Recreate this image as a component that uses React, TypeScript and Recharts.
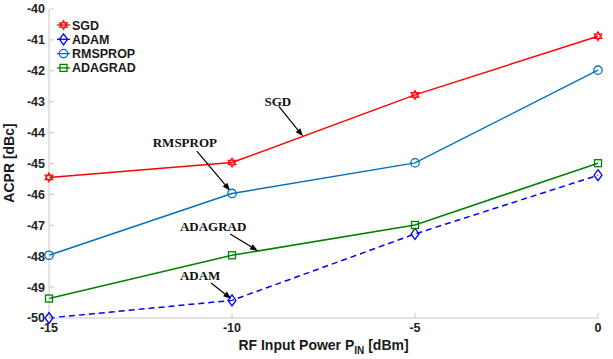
import React from 'react'
import { LineChart, Line, XAxis, YAxis, ReferenceLine } from 'recharts'

// RF input power (dBm)
const powerIn = [-15, -10, -5, 0]

// ACPR (dBc) per optimizer
const sgd = [-45.45, -44.97, -42.78, -40.88]
const adam = [-50, -49.43, -47.28, -45.38]
const rmsprop = [-47.97, -45.97, -44.98, -41.98]
const adagrad = [-49.37, -47.97, -46.99, -44.99]

const xTicks = [-15, -10, -5, 0]
const yTicks = [-50, -49, -48, -47, -46, -45, -44, -43, -42, -41, -40]

const data = powerIn.map((p, i) => ({
  p,
  sgd: sgd[i],
  adam: adam[i],
  rmsprop: rmsprop[i],
  adagrad: adagrad[i],
}))

const RED = '#ff0000'
const BLUE = '#0000ff'
const SKY = '#0072bd'
const GREEN = '#008000'
const FRAME = '#c8c8c8'
const SANS = '"Liberation Sans", Arial, sans-serif'
const SERIF = '"Liberation Serif", "Times New Roman", serif'

// arrow annotations in data coordinates, text offset in px from the arrow tail
const notes = [
  { text: 'SGD', from: [-8.72, -43.15], to: [-8.06, -44.12], dx: -1, dy: 0 },
  { text: 'RMSPROP', from: [-10.96, -44.6], to: [-10.05, -45.88], dx: -12, dy: -4 },
  { text: 'ADAGRAD', from: [-10.05, -47.28], to: [-9.29, -47.83], dx: -17, dy: -3 },
  { text: 'ADAM', from: [-10.57, -48.87], to: [-10.02, -49.38], dx: -11, dy: -3 },
]

type Mark = 'star' | 'diamond' | 'circle' | 'square'

function marker(kind: Mark, cx: number, cy: number, color: string, key?: string) {
  if (kind === 'circle') {
    return <circle key={key} cx={cx} cy={cy} r={4.2} fill="none" stroke={color} strokeWidth={1.3} />
  }
  if (kind === 'square') {
    return <rect key={key} x={cx - 3.5} y={cy - 3.5} width={7} height={7} fill="none" stroke={color} strokeWidth={1.3} />
  }
  if (kind === 'diamond') {
    const d = `M${cx},${cy - 5.5}L${cx + 4},${cy}L${cx},${cy + 5.5}L${cx - 4},${cy}Z`
    return <path key={key} d={d} fill="none" stroke={color} strokeWidth={1.3} />
  }
  const r = 4.5
  const tri = (rot: number) =>
    [0, 1, 2]
      .map((k) => {
        const a = rot + (k * 2 * Math.PI) / 3
        return `${cx + r * Math.sin(a)},${cy - r * Math.cos(a)}`
      })
      .join(' ')
  return (
    <g key={key}>
      <polygon points={tri(0)} fill="none" stroke={color} strokeWidth={1.1} />
      <polygon points={tri(Math.PI)} fill="none" stroke={color} strokeWidth={1.1} />
    </g>
  )
}

const dotFor = (kind: Mark, color: string) => (props: any) => {
  const { cx, cy, index } = props
  if (cx == null || cy == null) return <g key={`d${index}`} />
  return marker(kind, cx, cy, color, `${kind}${index}`)
}

const series: { key: string; name: string; color: string; kind: Mark; dash?: string }[] = [
  { key: 'sgd', name: 'SGD', color: RED, kind: 'star' },
  { key: 'adam', name: 'ADAM', color: BLUE, kind: 'diamond', dash: '6 4' },
  { key: 'rmsprop', name: 'RMSPROP', color: SKY, kind: 'circle' },
  { key: 'adagrad', name: 'ADAGRAD', color: GREEN, kind: 'square' },
]

const LegendBox = () => (
  <svg width={90} height={60} style={{ position: 'absolute', left: 55, top: 18 }}>
    {series.map((s, i) => {
      const y = 7 + i * 14.3
      return (
        <g key={s.key}>
          <line x1={2} x2={15} y1={y} y2={y} stroke={s.color} strokeWidth={1.3} />
          {marker(s.kind, 8.5, y, s.color)}
          <text x={17} y={y + 4.5} fontFamily={SANS} fontWeight="bold" fontSize={12.5} fill="#1a1a1a">
            {s.name}
          </text>
        </g>
      )
    })}
  </svg>
)

const arrowShape = (note: (typeof notes)[number]) => (props: any) => {
  const { x1, y1, x2, y2 } = props
  const ang = Math.atan2(y2 - y1, x2 - x1)
  const len = 8
  const w = 3
  const bx = x2 - len * Math.cos(ang)
  const by = y2 - len * Math.sin(ang)
  const px = -Math.sin(ang) * w
  const py = Math.cos(ang) * w
  return (
    <g>
      <line x1={x1} y1={y1} x2={bx} y2={by} stroke="#000" strokeWidth={1.2} />
      <polygon points={`${x2},${y2} ${bx + px},${by + py} ${bx - px},${by - py}`} fill="#000" />
      <text
        x={x1 + note.dx}
        y={y1 + note.dy}
        textAnchor="middle"
        fontFamily={SERIF}
        fontWeight="bold"
        fontSize={13}
        fill="#111"
      >
        {note.text}
      </text>
    </g>
  )
}

const XLabel = (props: any) => {
  const { viewBox } = props
  const cx = viewBox.x + viewBox.width / 2
  return (
    <text x={cx} y={350} textAnchor="middle" fontFamily={SANS} fontWeight="bold" fontSize={14} fill="#1a1a1a">
      RF Input Power P
      <tspan fontSize={10} dy={4}>IN</tspan>
      <tspan dy={-4}> [dBm]</tspan>
    </text>
  )
}

const YLabel = () => (
  <text
    x={14}
    y={163}
    transform="rotate(-90 14 163)"
    textAnchor="middle"
    fontFamily={SANS}
    fontWeight="bold"
    fontSize={14}
    fill="#1a1a1a"
  >
    ACPR [dBc]
  </text>
)

const tickStyle = { fontFamily: SANS, fontWeight: 'bold', fontSize: 12.5, fill: '#222' }

export default function App() {
  return (
    <div style={{ position: 'absolute', left: 0, top: 0, width: 613, height: 359, background: '#fff' }}>
      <LineChart width={613} height={359} data={data} margin={{ top: 9, right: 15, bottom: 0, left: 0 }}>
        <XAxis
          dataKey="p"
          type="number"
          domain={[-15, 0]}
          ticks={xTicks}
          height={41}
          tickSize={-5}
          tickMargin={10}
          stroke={FRAME}
          tick={tickStyle}
          label={<XLabel />}
        />
        <XAxis
          xAxisId="top"
          orientation="top"
          dataKey="p"
          type="number"
          domain={[-15, 0]}
          ticks={xTicks}
          height={0}
          tickSize={-5}
          tick={false}
          stroke={FRAME}
        />
        <YAxis
          type="number"
          domain={[-50, -40]}
          ticks={yTicks}
          width={49}
          tickSize={-5}
          tickMargin={9}
          stroke={FRAME}
          tick={tickStyle}
          label={<YLabel />}
        />
        <YAxis
          yAxisId="right"
          orientation="right"
          type="number"
          domain={[-50, -40]}
          ticks={yTicks}
          width={0}
          tickSize={-5}
          tick={false}
          stroke={FRAME}
        />
        {series.map((s) => (
          <Line
            key={s.key}
            dataKey={s.key}
            name={s.name}
            stroke={s.color}
            strokeWidth={1.5}
            strokeDasharray={s.dash}
            dot={dotFor(s.kind, s.color)}
            activeDot={false}
            isAnimationActive={false}
          />
        ))}
        {notes.map((n) => (
          <ReferenceLine
            key={n.text}
            segment={[
              { x: n.from[0], y: n.from[1] },
              { x: n.to[0], y: n.to[1] },
            ]}
            shape={arrowShape(n)}
            ifOverflow="visible"
          />
        ))}
      </LineChart>
      <LegendBox />
    </div>
  )
}
